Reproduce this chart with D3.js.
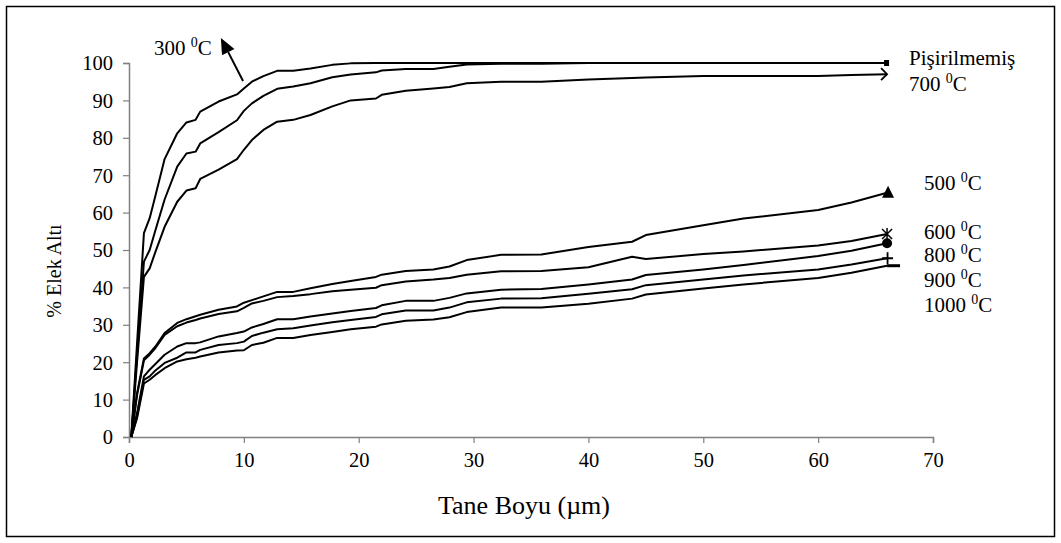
<!DOCTYPE html>
<html>
<head>
<meta charset="utf-8">
<script src="https://cdn.jsdelivr.net/npm/d3@7"></script>
<style>
  body { margin: 0; background: #fff; }
  svg { display: block; }
  text { font-family: "Liberation Serif", "Times New Roman", serif; fill: #000; }
</style>
</head>
<body>
<svg id="chart" width="1061" height="543"></svg>
<script>
'use strict';
// grain size (um) where every curve is sampled
const sizes = [0.2, 0.7, 1.3, 1.8, 2.3, 3.1, 4.2, 5.0, 5.8, 6.2, 7.8, 9.4, 10.0, 10.7, 11.7, 12.9, 14.3, 15.8, 17.7, 19.3,
  21.5, 22.0, 24.1, 26.5, 27.9, 29.4, 32.4, 35.9, 40.0, 43.8, 45.0, 50.0, 53.5, 60.0, 62.9, 66.0];

// % passing, one list per firing temperature
const s300 = [0, 25, 54.5, 58.5, 64.5, 74.3, 81.2, 84.1, 84.8, 87.0, 89.7, 91.6, 93.2, 95.0, 96.5, 97.9, 97.9, 98.5, 99.5, 99.9,
  100, 100, 100, 100, 100, 100, 100, 100, 100, 100, 100, 100, 100, 100, 100, 100];
const sRaw = [0, 22, 46.9, 50.0, 55.3, 63.5, 72.3, 75.8, 76.3, 78.5, 81.5, 84.7, 87.2, 89.2, 91.2, 93.1, 93.7, 94.6, 96.2, 96.9,
  97.5, 98.0, 98.4, 98.4, 99.0, 99.6, 99.8, 99.8, 100, 100, 100, 100, 100, 100, 100, 100];
const s700 = [0, 20, 42.8, 45.1, 49.5, 56.2, 62.9, 65.9, 66.5, 69.0, 71.5, 74.3, 76.8, 79.4, 82.1, 84.3, 84.8, 86.1, 88.4, 90.0,
  90.5, 91.5, 92.6, 93.2, 93.6, 94.6, 95.0, 95.0, 95.6, 96.0, 96.1, 96.5, 96.5, 96.5, 96.8, 97.0];
const s500 = [0, 11.7, 21.0, 22.4, 24.2, 27.8, 30.5, 31.5, 32.3, 32.7, 34.0, 34.9, 35.9, 36.6, 37.6, 38.8, 38.8, 39.8, 40.9, 41.7,
  42.8, 43.4, 44.4, 44.8, 45.6, 47.3, 48.7, 48.8, 50.8, 52.2, 54.0, 56.6, 58.4, 60.7, 62.7, 65.3];
const s600 = [0, 11.2, 20.5, 22.0, 23.8, 27.3, 29.6, 30.6, 31.3, 31.7, 32.9, 33.6, 34.5, 35.7, 36.4, 37.4, 37.7, 38.2, 39.0, 39.4,
  39.9, 40.6, 41.6, 42.1, 42.5, 43.4, 44.3, 44.4, 45.4, 48.2, 47.6, 48.9, 49.6, 51.2, 52.4, 54.3];
const s800 = [0, 6.4, 16.2, 18.0, 19.5, 22.0, 24.2, 25.1, 25.1, 25.3, 26.9, 27.8, 28.2, 29.3, 30.2, 31.5, 31.5, 32.2, 33.0, 33.7,
  34.5, 35.2, 36.4, 36.4, 37.2, 38.4, 39.4, 39.6, 40.8, 42.1, 43.3, 44.8, 46.0, 48.4, 49.8, 51.8];
const s900 = [0, 5.5, 15.3, 16.2, 17.8, 19.8, 21.2, 22.6, 22.6, 23.3, 24.6, 25.1, 25.5, 27.0, 27.9, 28.8, 29.1, 29.8, 30.7, 31.3,
  32.1, 32.8, 33.8, 33.8, 34.6, 36.0, 37.0, 37.1, 38.3, 39.5, 40.6, 42.1, 43.2, 44.8, 46.1, 47.8];
const s1000 = [0, 5.0, 14.3, 15.3, 16.6, 18.4, 20.2, 20.8, 21.2, 21.5, 22.6, 23.1, 23.2, 24.6, 25.2, 26.5, 26.5, 27.3, 28.1, 28.8,
  29.5, 30.1, 31.1, 31.4, 32.0, 33.4, 34.6, 34.6, 35.6, 37.0, 38.1, 39.7, 40.8, 42.5, 43.9, 45.8];

const xTicks = [0, 10, 20, 30, 40, 50, 60, 70];
const yTicks = [0, 10, 20, 30, 40, 50, 60, 70, 80, 90, 100];

const series = [
  { name: '300', vals: s300, marker: 'none' },
  { name: 'Pişirilmemiş', vals: sRaw, marker: 'square' },
  { name: '700', vals: s700, marker: 'chevron' },
  { name: '500', vals: s500, marker: 'triangle' },
  { name: '600', vals: s600, marker: 'star' },
  { name: '800', vals: s800, marker: 'circle' },
  { name: '900', vals: s900, marker: 'plus' },
  { name: '1000', vals: s1000, marker: 'dash' },
];

const svg = d3.select('#chart');

// outer frame
svg.append('rect')
  .attr('x', 6.5).attr('y', 6.5)
  .attr('width', 1048).attr('height', 530)
  .attr('fill', 'none').attr('stroke', '#000').attr('stroke-width', 1.5);

const x = d3.scaleLinear().domain([0, 70]).range([129, 933]);
const y = d3.scaleLinear().domain([0, 100]).range([437, 63]);

// axes
const gx = svg.append('g')
  .attr('transform', `translate(0,${y(0)})`)
  .call(d3.axisBottom(x).tickValues(xTicks).tickSize(6).tickPadding(9).tickFormat(d3.format('d')));
const gy = svg.append('g')
  .attr('transform', `translate(${x(0)},0)`)
  .call(d3.axisLeft(y).tickValues(yTicks).tickSize(6).tickPadding(10).tickFormat(d3.format('d')));
[gx, gy].forEach((g) => {
  g.select('.domain').attr('stroke', '#808080').attr('stroke-width', 1.5);
  g.selectAll('.tick line').attr('stroke', '#808080').attr('stroke-width', 1.2);
  g.selectAll('.tick text')
    .attr('font-family', '"Liberation Serif", serif')
    .attr('font-size', 20.5).attr('fill', '#000');
});
gy.selectAll('.tick text').attr('dy', '0.34em');

// axis titles
svg.append('text')
  .attr('x', 524).attr('y', 514)
  .attr('text-anchor', 'middle')
  .attr('font-size', 26)
  .text('Tane Boyu (µm)');
svg.append('text')
  .attr('transform', 'translate(61,271) rotate(-90)')
  .attr('text-anchor', 'middle')
  .attr('font-size', 20)
  .text('% Elek Altı');

// curves
const line = d3.line()
  .x((d, i) => x(sizes[i]))
  .y((d) => y(d));
svg.append('g')
  .selectAll('path')
  .data(series)
  .join('path')
  .attr('d', (s) => line(s.vals))
  .attr('fill', 'none')
  .attr('stroke', '#000')
  .attr('stroke-width', 2)
  .attr('stroke-linejoin', 'round');

// end markers
const mk = svg.append('g');
series.forEach((s) => {
  const px = x(sizes[sizes.length - 1]);
  const py = y(s.vals[s.vals.length - 1]);
  if (s.marker === 'square') {
    mk.append('rect').attr('x', px - 3).attr('y', py - 3).attr('width', 5).attr('height', 6).attr('fill', '#000');
  } else if (s.marker === 'chevron') {
    mk.append('path').attr('d', `M${px - 6},${py - 6}L${px},${py}L${px - 6},${py + 6}`)
      .attr('fill', 'none').attr('stroke', '#000').attr('stroke-width', 1.8);
  } else if (s.marker === 'triangle') {
    mk.append('path').attr('d', `M${px + 1},${py - 7}L${px + 7},${py + 5}L${px - 5},${py + 5}Z`).attr('fill', '#000');
  } else if (s.marker === 'star') {
    mk.append('path').attr('d', `M${px - 5},${py - 5}L${px + 5},${py + 5}M${px - 5},${py + 5}L${px + 5},${py - 5}M${px},${py - 6}L${px},${py + 6}`)
      .attr('fill', 'none').attr('stroke', '#000').attr('stroke-width', 1.5);
  } else if (s.marker === 'circle') {
    mk.append('circle').attr('cx', px).attr('cy', py).attr('r', 5).attr('fill', '#000');
  } else if (s.marker === 'plus') {
    mk.append('path').attr('d', `M${px - 5},${py}L${px + 6},${py}M${px + 0.5},${py - 6}L${px + 0.5},${py + 6}`)
      .attr('fill', 'none').attr('stroke', '#000').attr('stroke-width', 1.8);
  } else if (s.marker === 'dash') {
    mk.append('path').attr('d', `M${px},${py}L${px + 13},${py}`)
      .attr('fill', 'none').attr('stroke', '#000').attr('stroke-width', 3);
  }
});

// series labels (temperature with superscript 0 then C)
const tempLabel = (px, py, t) => {
  const tx = svg.append('text').attr('x', px).attr('y', py).attr('font-size', 21);
  tx.append('tspan').text(`${t} `);
  tx.append('tspan').attr('font-size', 14).attr('dy', -8).text('0');
  tx.append('tspan').attr('dy', 8).text('C');
};
svg.append('text').attr('x', 909).attr('y', 65).attr('font-size', 21).text('Pişirilmemiş');
tempLabel(909, 91, '700');
tempLabel(924, 190, '500');
tempLabel(924, 239, '600');
tempLabel(924, 262, '800');
tempLabel(924, 287, '900');
tempLabel(924, 312, '1000');
tempLabel(154, 55, '300');

// arrow from 300 label to its curve (data units)
const arrowTail = [9.93, 95.2];
const arrowTip = [8.0, 106.7];
const ax1 = x(arrowTail[0]), ay1 = y(arrowTail[1]);
const ax2 = x(arrowTip[0]), ay2 = y(arrowTip[1]);
const ang = Math.atan2(ay2 - ay1, ax2 - ax1);
const hl = 16, hw = 7;
const bx = ax2 - hl * Math.cos(ang), by = ay2 - hl * Math.sin(ang);
svg.append('line')
  .attr('x1', ax1).attr('y1', ay1).attr('x2', bx).attr('y2', by)
  .attr('stroke', '#000').attr('stroke-width', 2);
svg.append('path')
  .attr('d', `M${ax2},${ay2}L${bx + hw * Math.sin(ang)},${by - hw * Math.cos(ang)}L${bx - hw * Math.sin(ang)},${by + hw * Math.cos(ang)}Z`)
  .attr('fill', '#000');
</script>
</body>
</html>
